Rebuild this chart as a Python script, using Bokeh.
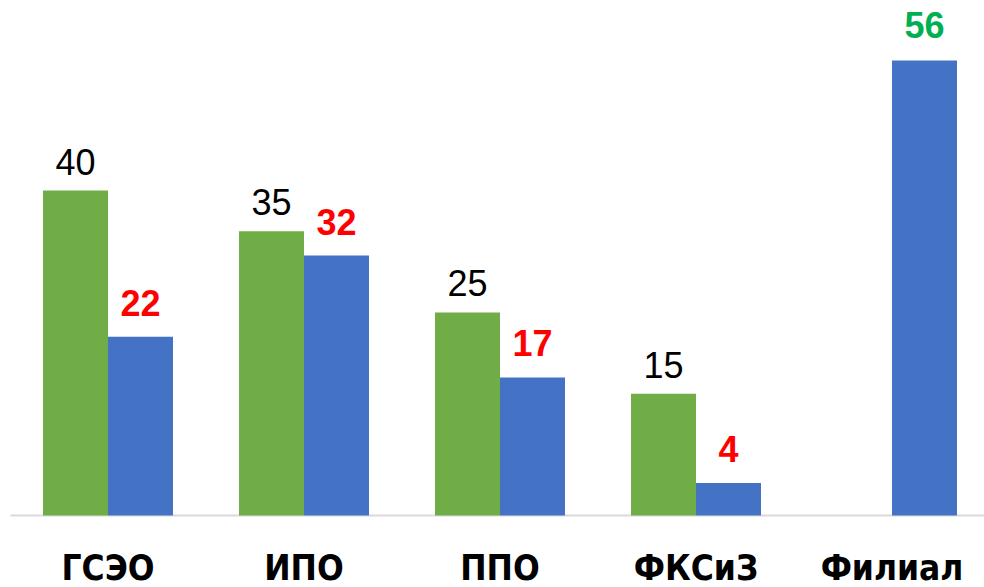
from bokeh.plotting import figure
from bokeh.models import ColumnDataSource, Range1d
from bokeh.core.properties import value
from bokeh.embed import file_html
from bokeh.resources import INLINE

categories = ["ГСЭО", "ИПО", "ППО", "ФКСиЗ", "Филиал"]
plan = [40, 35, 25, 15, None]
fact = [22, 32, 17, 4, 56]

GREEN = "#70AD47"
BLUE = "#4472C4"
half = 65 / 196 / 2
bw = 65 / 196
PX = 8.125  # pixels per unit
XS = 196    # pixels per category

x_start = -107.5 / XS
x_end = x_start + 984 / XS
p = figure(width=984, height=587, output_backend="svg", toolbar_location=None,
           x_range=Range1d(x_start, x_end), y_range=Range1d(-72 / PX, 515 / PX),
           min_border=0)

p.segment(x0=[x_start + 10 / XS], y0=[0], x1=[x_end], y1=[0], line_color="#D9D9D9", line_width=2)

gx = [i - half for i, v in enumerate(plan) if v is not None]
gy = [v for v in plan if v is not None]
gsrc = ColumnDataSource(dict(x=gx, top=gy, ly=[v + 29 / PX for v in gy], label=[str(v) for v in gy]))
p.vbar(x="x", top="top", width=bw, bottom=0, source=gsrc, color=GREEN, line_color=None)

bx = [i + half for i in range(len(fact))]
bsrc = ColumnDataSource(dict(x=bx, top=fact))
p.vbar(x="x", top="top", width=bw, bottom=0, source=bsrc, color=BLUE, line_color=None)

p.text(x="x", y="ly", text="label", source=gsrc, text_align="center", text_baseline="middle",
       text_font=value("Liberation Sans"), text_font_size="36px", text_color="black")

red_idx = [i for i, v in enumerate(plan) if v is not None]
grn_idx = [i for i, v in enumerate(plan) if v is None]
rsrc = ColumnDataSource(dict(x=[bx[i] for i in red_idx], ly=[fact[i] + 34 / PX for i in red_idx],
                             label=[str(fact[i]) for i in red_idx]))
fsrc = ColumnDataSource(dict(x=[bx[i] for i in grn_idx], ly=[fact[i] + 36 / PX for i in grn_idx],
                             label=[str(fact[i]) for i in grn_idx]))
p.text(x="x", y="ly", text="label", source=rsrc, text_align="center", text_baseline="middle",
       text_font=value("Liberation Sans"), text_font_size="36px",
       text_font_style="bold", text_color="#FF0000")
p.text(x="x", y="ly", text="label", source=fsrc, text_align="center", text_baseline="middle",
       text_font=value("Liberation Sans"), text_font_size="36px",
       text_font_style="bold", text_color="#00B050")

csrc = ColumnDataSource(dict(x=list(range(len(categories))), y=[-52 / PX] * len(categories),
                             label=categories))
p.text(x="x", y="y", text="label", source=csrc, text_align="center", text_baseline="middle",
       text_font=value("DejaVu Sans Condensed"), text_font_style="bold",
       text_font_size="35px", text_color="black")

p.axis.visible = False
p.xgrid.grid_line_color = None
p.ygrid.grid_line_color = None
p.outline_line_color = None

open("out.html", "w").write(file_html(p, INLINE))
